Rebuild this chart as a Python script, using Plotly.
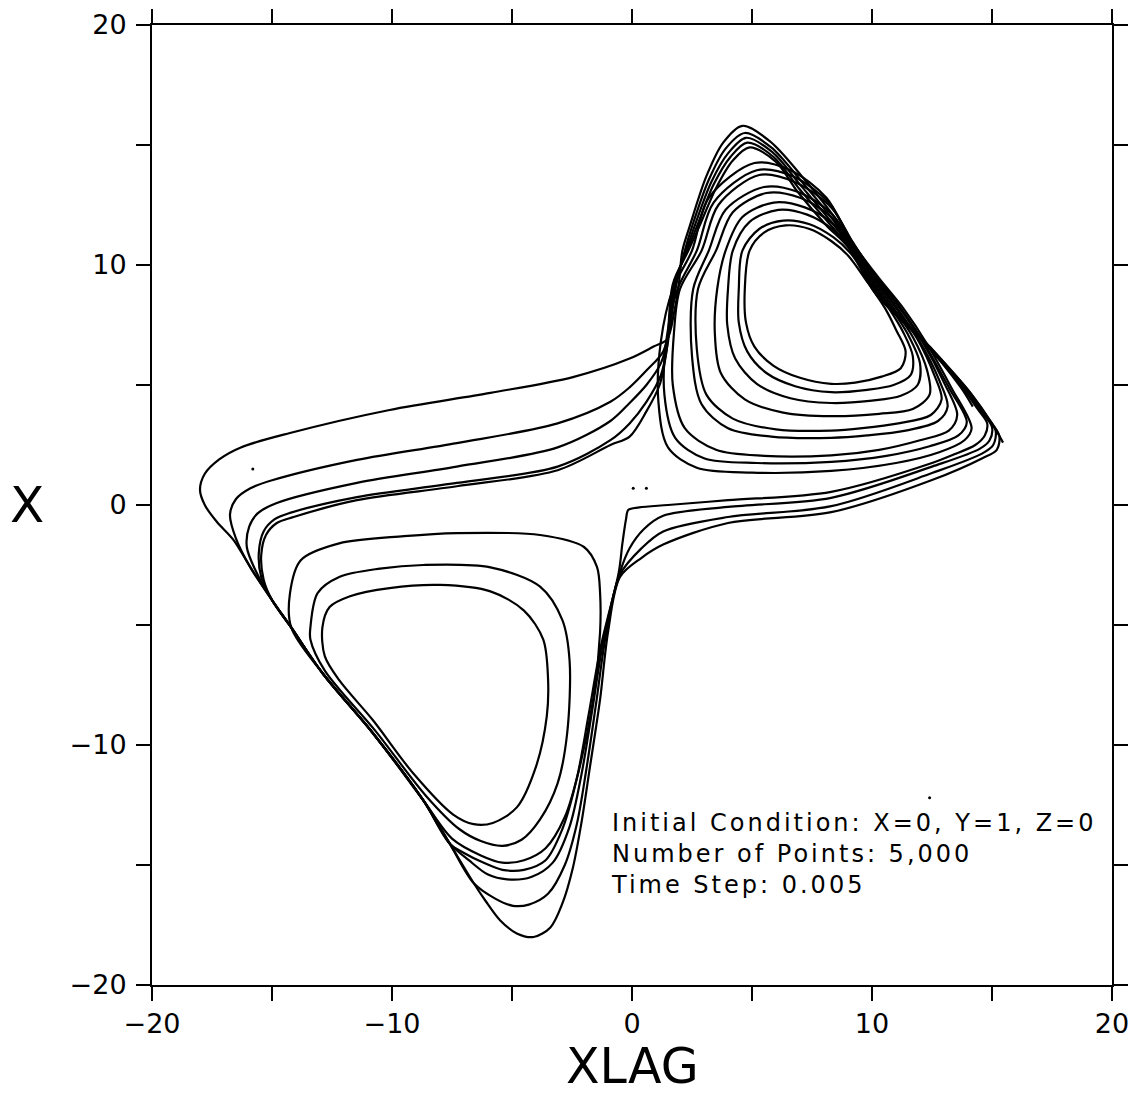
import plotly.graph_objects as go

# ---------------- axis ticks ----------------
TICK_VALUES = [-20, -15, -10, -5, 0, 5, 10, 15, 20]
TICK_LABELS = ["\u221220", "", "\u221210", "", "0", "", "10", "", "20"]

# ---------------- traced trajectory pieces (XLAG, X) ----------------
# Right lobe, nested loops (innermost first)
R1_XLAG = [4.7, 4.9, 5.5, 6.4, 7.4, 8.3, 9.0, 9.8, 10.6, 11.0, 11.4, 11.2, 10.4, 9.3, 8.3, 7.0, 5.9, 5.1, 4.75, 4.7]
R1_X = [9.0, 10.6, 11.35, 11.65, 11.5, 11.0, 10.4, 9.3, 8.1, 7.3, 6.4, 5.7, 5.35, 5.1, 5.05, 5.3, 5.8, 6.6, 7.6, 9.0]
R2_XLAG = [4.45, 4.6, 5.3, 6.3, 7.4, 8.4, 9.1, 9.9, 10.7, 11.3, 11.7, 11.6, 10.9, 9.8, 8.3, 6.8, 5.6, 4.8, 4.45, 4.45]
R2_X = [9.0, 10.6, 11.5, 11.85, 11.7, 11.15, 10.5, 9.35, 8.2, 7.2, 6.2, 5.4, 5.0, 4.8, 4.7, 4.95, 5.5, 6.4, 7.6, 9.0]
R3_XLAG = [4.0, 4.2, 4.9, 6.1, 7.3, 8.4, 9.15, 9.95, 10.8, 11.5, 12.0, 11.9, 11.2, 10.0, 8.3, 6.6, 5.2, 4.3, 3.97, 4.0]
R3_X = [9.0, 10.6, 11.8, 12.3, 12.1, 11.45, 10.6, 9.4, 8.2, 7.1, 5.9, 5.0, 4.55, 4.35, 4.25, 4.45, 5.05, 6.1, 7.5, 9.0]
R4_XLAG = [3.55, 3.9, 4.6, 5.9, 7.2, 8.4, 9.2, 10.0, 10.9, 11.7, 12.3, 12.4, 11.7, 10.3, 8.3, 6.3, 4.7, 3.7, 3.45, 3.55]
R4_X = [9.0, 10.6, 12.0, 12.6, 12.4, 11.7, 10.7, 9.45, 8.2, 7.0, 5.6, 4.6, 4.0, 3.8, 3.7, 3.85, 4.4, 5.5, 7.2, 9.0]
R5_XLAG = [2.75, 3.5, 4.2, 5.6, 7.0, 8.3, 9.2, 10.05, 11.0, 11.9, 12.6, 12.9, 12.45, 11.1, 9.6, 8.3, 6.0, 4.2, 3.1, 2.7, 2.75]
R5_X = [9.0, 10.6, 12.2, 13.0, 12.8, 12.0, 10.8, 9.5, 8.2, 6.9, 5.4, 4.4, 3.75, 3.4, 3.2, 3.1, 3.15, 3.6, 4.6, 6.5, 9.0]
R6_XLAG = [2.55, 3.2, 3.9, 5.5, 6.9, 8.3, 9.2, 10.1, 11.05, 12.0, 12.8, 13.15, 12.75, 11.4, 9.8, 8.3, 5.8, 4.0, 2.9, 2.5, 2.55]
R6_X = [9.0, 10.6, 12.3, 13.25, 13.05, 12.15, 10.85, 9.5, 8.2, 6.8, 5.2, 4.1, 3.5, 3.1, 2.9, 2.8, 2.85, 3.2, 4.2, 6.2, 9.0]
R7_XLAG = [2.0, 2.9, 3.6, 5.3, 6.8, 8.3, 9.2, 10.15, 11.15, 12.1, 13.0, 13.55, 13.2, 12.0, 10.3, 8.3, 5.5, 3.5, 2.2, 1.7, 1.75, 2.0]
R7_X = [9.0, 10.6, 12.5, 13.75, 13.45, 12.4, 10.95, 9.5, 8.2, 6.8, 5.1, 3.75, 3.1, 2.7, 2.3, 2.07, 2.05, 2.3, 3.2, 5.0, 7.2, 9.0]
R8_XLAG = [1.9, 2.7, 3.4, 5.2, 6.7, 8.2, 9.15, 10.2, 11.2, 12.2, 13.2, 13.95, 13.6, 12.4, 10.6, 8.3, 5.2, 3.0, 1.8, 1.35, 1.45, 1.9]
R8_X = [9.0, 10.6, 12.6, 13.95, 13.7, 12.6, 11.0, 9.5, 8.2, 6.7, 4.9, 3.45, 2.9, 2.45, 2.05, 1.8, 1.75, 1.95, 2.8, 4.6, 7.0, 9.0]
R9_XLAG = [1.7, 2.5, 3.2, 5.1, 6.6, 8.1, 9.1, 10.25, 11.3, 12.3, 13.3, 14.15, 13.85, 12.8, 11.0, 8.3, 5.0, 2.7, 1.5, 1.1, 1.2, 1.7]
R9_X = [9.0, 10.6, 12.8, 14.25, 13.95, 12.8, 11.05, 9.5, 8.2, 6.7, 4.9, 3.2, 2.7, 2.2, 1.75, 1.42, 1.35, 1.55, 2.4, 4.3, 6.8, 9.0]

# Left lobe, nested loops (innermost first)
LC_XLAG = [-12.8, -12.9, -12.6, -11.75, -10.1, -8.0, -5.9, -4.5, -3.7, -3.5, -3.55, -4.0, -4.8, -5.8, -6.6, -7.45, -9.1, -10.8, -12.2, -12.8]
LC_X = [-6.3, -5.1, -4.25, -3.8, -3.46, -3.33, -3.6, -4.4, -5.6, -7.2, -8.8, -10.9, -12.6, -13.25, -13.3, -12.9, -11.2, -8.96, -7.3, -6.3]
LB_XLAG = [-13.4, -13.1, -12.2, -10.5, -8.7, -5.9, -3.83, -2.9, -2.6, -2.7, -3.1, -3.83, -4.6, -5.4, -6.3, -7.2, -8.6, -10.7, -12.8, -13.4, -13.4]
LB_X = [-5.1, -3.67, -3.0, -2.65, -2.5, -2.6, -3.4, -4.8, -6.5, -9.5, -11.6, -13.1, -13.95, -14.2, -14.0, -13.5, -12.1, -9.4, -6.9, -5.6, -5.1]
LA_XLAG = [-14.2, -14.25, -13.8, -12.2, -9.5, -7.3, -3.83, -2.0, -1.46, -1.33, -1.33, -1.6, -2.2, -2.8, -3.6, -4.5, -5.4, -6.3, -7.5, -8.7, -10.8, -12.9, -14.2]
LA_X = [-5.1, -3.67, -2.3, -1.6, -1.3, -1.17, -1.25, -1.75, -2.58, -3.67, -5.3, -8.0, -11.0, -13.0, -14.3, -14.8, -14.9, -14.6, -13.9, -12.3, -9.5, -7.0, -5.1]

# Crossing orbits (left lobe -> right lobe -> left lobe), outermost first
C1_XLAG = [-14.2, -15.0, -15.9, -16.6, -17.3, -17.8, -18.0, -17.8, -17.2, -16.3, -14.25, -10.1, -5.9, -2.46, -0.1, 0.9, 1.46,
           1.75, 1.95, 2.1, 2.4, 3.1, 3.8, 4.6, 5.75, 7.1, 8.5, 9.2, 10.33, 12.4, 14.1, 14.85, 15.3, 15.2, 14.6, 12.5, 8.3,
           4.0, 1.3, 0.4, -0.5, -1.0, -1.33, -1.75, -2.1, -2.46, -2.9, -3.4, -4.1, -4.8, -5.5, -6.1, -6.6, -7.6, -8.7,
           -10.8, -12.9, -14.2]
C1_X = [-5.1, -3.96, -2.6, -1.46, -0.7, 0.0, 0.63, 1.3, 1.9, 2.4, 3.0, 3.96, 4.67, 5.33, 6.1, 6.6, 6.9,
        8.0, 9.2, 10.6, 11.6, 13.7, 15.1, 15.8, 15.15, 13.67, 11.9, 10.75, 8.8, 6.6, 4.67, 3.6, 2.9, 2.3, 1.95, 1.04, -0.3,
        -0.75, -1.65, -2.2, -3.0, -5.3, -8.1, -10.9, -13.2, -15.1, -16.6, -17.6, -18.0, -17.85, -17.3, -16.5, -15.75, -14.1, -12.3,
        -9.5, -7.0, -5.1]
C2_XLAG = [-14.2, -15.0, -15.9, -16.5, -16.75, -16.5, -15.9, -14.96, -11.46, -7.3, -3.1, -0.9, -0.1, 0.6, 1.3,
           1.6, 1.85, 2.2, 2.5, 3.2, 3.9, 4.7, 5.8, 7.05, 8.4, 9.15, 10.3, 12.35, 14.0, 14.7, 15.15, 15.05, 14.6, 12.5, 8.3,
           4.0, 1.3, 0.4, -0.5, -1.1, -1.5, -1.9, -2.3, -2.8, -3.5, -4.3, -4.96, -5.7, -6.6, -7.6, -8.7, -10.8, -12.9, -14.2]
C2_X = [-5.1, -3.96, -2.6, -1.4, -0.4, 0.25, 0.7, 1.04, 1.88, 2.58, 3.4, 4.3, 4.9, 5.6, 6.4,
        7.6, 9.2, 10.6, 11.6, 13.55, 14.85, 15.5, 14.9, 13.5, 11.85, 10.75, 8.8, 6.6, 4.7, 3.75, 3.1, 2.5, 2.15, 1.33, -0.05,
        -0.5, -1.1, -1.8, -2.9, -5.5, -8.3, -11.0, -13.3, -15.0, -16.2, -16.65, -16.7, -16.4, -15.75, -14.1, -12.3, -9.5, -7.0, -5.1]
C3_XLAG = [-14.2, -15.0, -15.7, -16.05, -15.95, -15.6, -14.8, -11.46, -7.3, -3.1, -0.9, -0.1, 0.6, 1.2, 1.55,
           1.8, 2.25, 2.6, 3.3, 4.0, 4.75, 5.85, 7.0, 8.3, 9.1, 10.25, 12.3, 13.9, 14.55, 15.0, 14.9, 14.5, 12.5, 8.3,
           4.0, 1.3, 0.5, -0.1, -0.5, -1.2, -1.65, -2.1, -2.6, -3.3, -4.2, -5.2, -6.0, -6.8, -7.6, -8.7, -10.8, -12.9, -14.2]
C3_X = [-5.1, -3.96, -2.7, -1.75, -0.9, -0.35, 0.08, 0.92, 1.6, 2.4, 3.5, 4.25, 5.0, 5.9, 7.2,
        9.2, 10.6, 11.6, 13.45, 14.65, 15.3, 14.7, 13.35, 11.8, 10.75, 8.8, 6.65, 4.8, 3.9, 3.25, 2.7, 2.35, 1.6, 0.3,
        -0.08, -0.45, -1.0, -1.8, -2.8, -5.7, -8.5, -11.2, -13.4, -14.9, -15.5, -15.6, -15.4, -14.8, -14.1, -12.3, -9.5, -7.0, -5.1]
C4_XLAG = [-14.2, -15.0, -15.45, -15.55, -15.35, -14.9, -14.25, -11.46, -7.3, -3.1, -0.9, -0.1, 0.6, 1.2, 1.5,
           1.75, 2.3, 2.7, 3.4, 4.1, 4.8, 5.9, 6.95, 8.2, 9.05, 10.2, 12.25, 13.8, 14.4, 14.8, 14.7, 14.3, 13.4, 12.5, 8.3,
           4.0, 1.5, 0.3, -0.15, -0.25, -0.4, -0.55, -1.3, -1.8, -2.3, -2.9, -3.6, -4.5, -5.4, -6.2, -7.0, -7.6, -8.7,
           -10.8, -12.9, -14.2]
C4_X = [-5.1, -3.96, -3.0, -2.0, -1.1, -0.6, -0.33, 0.33, 0.92, 1.6, 2.7, 3.4, 4.3, 5.4, 6.8,
        9.2, 10.6, 11.6, 13.35, 14.5, 15.1, 14.5, 13.2, 11.75, 10.75, 8.8, 6.7, 4.85, 4.0, 3.4, 2.9, 2.5, 2.1, 1.75, 0.55,
        0.2, 0.0, -0.1, -0.2, -0.6, -1.6, -2.8, -5.9, -8.7, -11.4, -13.5, -14.8, -15.2, -15.2, -14.9, -14.5, -14.1, -12.3,
        -9.5, -7.0, -5.1]
C5_XLAG = [-14.2, -15.0, -15.35, -15.45, -15.25, -14.8, -14.1, -11.46, -7.3, -3.1, -0.9, -0.1, 0.6, 1.15, 1.45,
           1.7, 2.35, 2.8, 3.5, 4.2, 4.9, 6.0, 6.9, 8.1, 9.0, 10.15, 12.2, 13.7, 14.2]
C5_X = [-5.1, -3.96, -3.1, -2.1, -1.25, -0.75, -0.5, 0.2, 0.78, 1.45, 2.5, 2.85, 3.9, 5.0, 6.5,
        9.2, 10.6, 11.6, 13.2, 14.35, 14.9, 14.3, 13.05, 11.65, 10.75, 8.8, 6.75, 4.9, 4.1]

# Final stretch of the trajectory (sharp tip at the right)
END_XLAG = [12.4, 14.1, 15.0, 15.46]
END_X = [6.6, 4.67, 3.4, 2.6]

# Stray specks in the plot area
DOT_XLAG = [-15.8, 0.05, 0.6, 12.4]
DOT_X = [1.5, 0.7, 0.7, -12.2]

CURVES = [
    (R1_XLAG, R1_X), (R2_XLAG, R2_X), (R3_XLAG, R3_X), (R4_XLAG, R4_X), (R5_XLAG, R5_X),
    (R6_XLAG, R6_X), (R7_XLAG, R7_X), (R8_XLAG, R8_X), (R9_XLAG, R9_X),
    (LC_XLAG, LC_X), (LB_XLAG, LB_X), (LA_XLAG, LA_X),
    (C1_XLAG, C1_X), (C2_XLAG, C2_X), (C3_XLAG, C3_X), (C4_XLAG, C4_X), (C5_XLAG, C5_X),
    (END_XLAG, END_X),
]

NOTE_LINES = ["Initial Condition: X=0, Y=1, Z=0", "Number of Points: 5,000", "Time Step: 0.005"]

FONT = "DejaVu Sans, Noto Sans, sans-serif"

fig = go.Figure()
for xs, ys in CURVES:
    fig.add_trace(go.Scatter(
        x=xs, y=ys, mode="lines",
        line=dict(color="black", width=2.2, shape="spline", smoothing=0.9),
        hoverinfo="skip", showlegend=False,
    ))
fig.add_trace(go.Scatter(
    x=DOT_XLAG, y=DOT_X, mode="markers",
    marker=dict(color="black", size=3), hoverinfo="skip", showlegend=False,
))

axis_common = dict(
    range=[-20, 20], tickvals=TICK_VALUES, ticktext=TICK_LABELS,
    ticks="outside", ticklen=14, tickwidth=2, tickcolor="black",
    showline=True, linewidth=2, linecolor="black", mirror="ticks",
    showgrid=False, zeroline=False, automargin=False,
    tickfont=dict(family=FONT, size=27, color="black"),
)
fig.update_xaxes(**axis_common)
fig.update_yaxes(**axis_common, ticklabelstandoff=4)

note_text = "<br>".join(
    '<span style="letter-spacing:3px">' + line + "</span>" for line in NOTE_LINES
)

fig.update_layout(
    width=1133, height=1097,
    margin=dict(l=152, r=21, t=25, b=112, autoexpand=False),
    plot_bgcolor="white", paper_bgcolor="white",
    showlegend=False,
    annotations=[
        dict(text="X", xref="paper", yref="paper", x=-0.13, y=0.5,
             xanchor="center", yanchor="middle", showarrow=False,
             font=dict(family=FONT, size=50, color="black")),
        dict(text="XLAG", xref="paper", yref="paper", x=0.5, y=-0.1167,
             xanchor="center", yanchor="bottom", showarrow=False,
             font=dict(family=FONT, size=49, color="black")),
        dict(text=note_text, xref="x", yref="y", x=-0.95, y=-12.6,
             xanchor="left", yanchor="top", align="left", showarrow=False,
             font=dict(family=FONT, size=24, color="black")),
    ],
)

fig.write_html("out.html")
